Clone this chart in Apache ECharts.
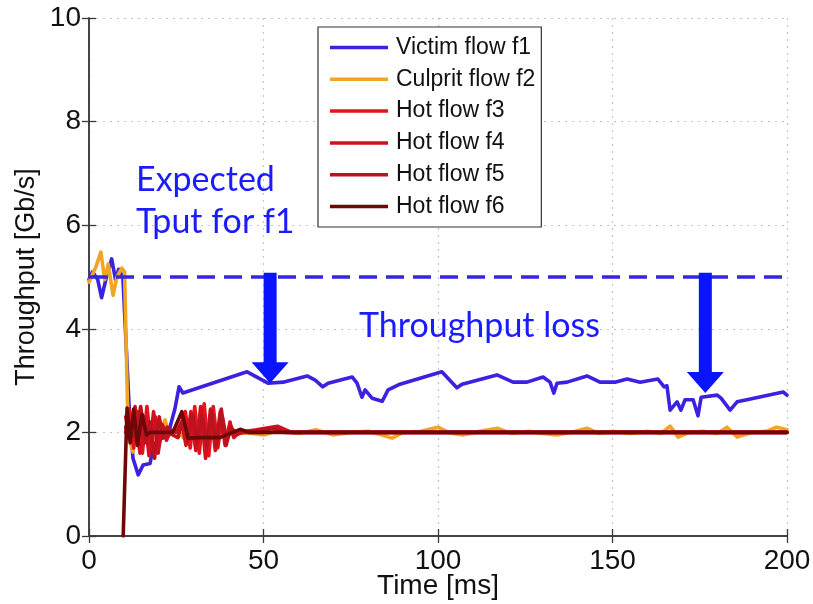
<!DOCTYPE html>
<html>
<head>
<meta charset="utf-8">
<script src="https://cdn.jsdelivr.net/npm/echarts@6/dist/echarts.min.js"></script>
<style>
  html, body { margin: 0; padding: 0; background: #fff; }
  #chart { width: 813px; height: 604px; }
</style>
</head>
<body>
<div id="chart"></div>
<script>
// Axis ticks
const xTicks = [0, 50, 100, 150, 200];
const yTicks = [0, 2, 4, 6, 8, 10];

// Throughput samples, [time ms, Gb/s]
const victimF1 = [
  [0, 4.95], [1, 5.1], [2.5, 4.95], [3.6, 4.6], [5, 5.0], [6.5, 5.35], [7.6, 4.95], [8.5, 5.15],
  [9.7, 5.0], [11.5, 2.5], [12.6, 1.5], [14.1, 1.18], [15.5, 1.37], [17.5, 1.4], [18.1, 1.62],
  [19.5, 1.85], [21.8, 1.91], [23.2, 2.1], [24.6, 2.45], [25.8, 2.88], [26.9, 2.76], [45.3, 3.17],
  [51.3, 2.95], [55.6, 2.97], [62.5, 3.09], [64.8, 3.01], [67, 2.88], [68.5, 2.95], [75.4, 3.07],
  [76.8, 2.95], [78.2, 2.68], [79.1, 2.82], [81.1, 2.66], [84, 2.6], [85.7, 2.82], [89.1, 2.93],
  [101.1, 3.17], [105.4, 2.86], [106.9, 2.93], [116.9, 3.11], [121.5, 2.97], [125.5, 2.97],
  [130.1, 3.07], [132.1, 2.97], [133.2, 2.76], [134.1, 2.95], [137, 2.97], [142.7, 3.09],
  [146.4, 2.97], [150.7, 2.97], [154.2, 3.03], [157.9, 2.97], [163, 3.03], [164.8, 2.88],
  [165.6, 2.9], [166.5, 2.43], [168.5, 2.59], [169.6, 2.43], [170.8, 2.63], [173.1, 2.63],
  [174.5, 2.32], [175.4, 2.68], [180, 2.72], [181.1, 2.66], [183.7, 2.43], [185.7, 2.59],
  [188.5, 2.63], [198.9, 2.78], [200, 2.72]
];
const culpritF2 = [
  [0, 4.9], [1, 5.05], [2, 5.2], [3.4, 5.48], [4.5, 4.95], [5.5, 5.25], [6.9, 4.65], [8, 5.0],
  [9.4, 5.17], [10.2, 5.1], [11, 2.6], [11.6, 1.85], [12.6, 1.62], [13.5, 2.2], [14.5, 1.7],
  [15.5, 2.1], [16.5, 1.85], [18, 2.0], [19.5, 1.85], [21.8, 2.24], [23, 1.95], [25, 2.05],
  [27, 1.9], [28.5, 1.85], [30, 2.0], [35, 2.0], [40, 1.95], [45, 2.0], [50, 1.95], [55, 2.05],
  [60, 1.98], [65, 2.05], [70, 1.95], [75, 2.0], [80, 2.02], [84, 1.95], [86.8, 1.89], [90, 2.0],
  [95, 2.02], [100, 2.1], [103, 2.0], [107, 1.95], [112, 2.02], [117, 2.08], [121, 1.98],
  [126, 2.02], [130, 1.98], [134, 1.95], [138, 2.0], [142.7, 2.08], [146, 1.98], [150, 2.02],
  [155, 1.98], [160, 2.02], [164, 1.98], [166.5, 2.12], [168.8, 1.91], [172, 2.0], [176, 2.02],
  [180, 1.98], [182.8, 2.1], [185.7, 1.91], [190, 2.0], [194, 2.02], [197, 2.1], [200, 2.05]
];
const hotF3 = [
  [10.5, 2.0], [11.5, 2.45], [12.8, 1.7], [14, 2.4], [15.3, 1.6], [16.6, 2.5], [17.8, 1.7],
  [19, 2.3], [20.2, 1.8], [21.5, 2.1], [22.5, 1.95], [24, 2.0],
  [26, 2.05], [27.6, 2.4], [29, 1.7], [30.3, 2.5], [31.6, 1.6], [33, 2.55], [34.3, 1.55],
  [35.6, 2.5], [36.9, 1.7], [38.2, 2.3], [39.5, 1.85], [40.6, 2.1],
  [42, 1.95], [44, 2.0], [50, 2.0], [53, 2.1], [56, 2.0], [100, 2.0], [200, 2.0]
];
const hotF4 = [
  [10.5, 2.3], [11.8, 1.9], [13.2, 2.5], [14.6, 1.6], [16, 2.3], [17.2, 1.55], [18.5, 2.4],
  [19.8, 1.6], [21, 2.15], [22.2, 1.85], [23.5, 2.05], [25, 2.0],
  [26.5, 2.2], [27.8, 1.75], [29.2, 2.4], [30.6, 1.65], [32, 2.5], [33.4, 1.5], [34.8, 2.45],
  [36.2, 1.65], [37.6, 2.4], [39, 1.75], [40.4, 2.2], [41.5, 1.9],
  [43, 2.0], [48, 2.05], [54, 2.12], [58, 2.0], [100, 2.0], [200, 2.0]
];
const hotF5 = [
  [10.5, 2.1], [12, 2.2], [13.4, 1.85], [14.8, 2.5], [16.2, 1.8], [17.5, 2.2], [18.8, 1.5],
  [20.1, 2.3], [21.3, 1.9], [22.5, 2.1], [24, 1.95], [25.5, 1.9], [27, 2.3],
  [28.3, 1.85], [29.7, 2.35], [31, 1.8], [32.4, 2.3], [33.8, 1.75], [35.1, 2.4], [36.5, 1.75],
  [37.9, 2.45], [39.3, 1.75], [40.6, 2.1], [42, 2.0], [46, 2.0], [52, 2.08], [57, 2.0], [100, 2.0],
  [200, 2.0]
];
const hotF6 = [
  [9.8, 0], [10.9, 2.47], [11.8, 1.8], [12.8, 2.45], [13.9, 1.75], [15.2, 2.35], [16.5, 1.95],
  [17.5, 2.0], [20, 2.0], [24, 2.0], [26.6, 2.4], [28.4, 1.89], [32, 1.9], [37.5, 1.9],
  [43.3, 2.06], [46, 2.0], [100, 2.0], [200, 2.0]
];
const expectedF1 = [[0, 5], [200, 5]];

// Loss arrows: time, top value, tip value
const lossArrows = [
  { t: 51.9, from: 5.08, to: 2.95 },
  { t: 176.6, from: 5.08, to: 2.76 }
];

const seriesNames = ['Victim flow f1', 'Culprit flow f2', 'Hot flow f3', 'Hot flow f4', 'Hot flow f5', 'Hot flow f6'];
const seriesData = [victimF1, culpritF2, hotF3, hotF4, hotF5, hotF6];
const seriesColors = ['#3b22e0', '#f0a622', '#e3141c', '#d0101c', '#bb1220', '#6e0808'];

const FONT = 'Liberation Sans, Arial, sans-serif';
const ANNOT_FONT = 'Lato, Open Sans, sans-serif';
const ANNOT_BLUE = '#1b1bff';

const chart = echarts.init(document.getElementById('chart'), null, { renderer: 'canvas' });

const gridLine = { show: true, lineStyle: { color: '#c4c4c4', width: 1.2, type: [2, 5] } };
const frameLine = { show: true, lineStyle: { color: '#3a3a3a', width: 1.5 } };
const inTick = { show: true, inside: true, length: 7, lineStyle: { color: '#3a3a3a', width: 1.3 } };

const series = seriesNames.map((name, i) => ({
  name: name,
  type: 'line',
  data: seriesData[i],
  showSymbol: false,
  symbol: 'none',
  smooth: false,
  lineStyle: { color: seriesColors[i], width: 3.6, join: 'round', cap: 'round' },
  itemStyle: { color: seriesColors[i] },
  z: 3 + i
}));
series.push({
  name: 'expected',
  type: 'line',
  data: expectedF1,
  symbol: 'none',
  lineStyle: { color: '#3526e6', width: 3.4, type: [18, 9] },
  z: 10
});

chart.setOption({
  animation: false,
  backgroundColor: '#fff',
  grid: { left: 89, right: 26, top: 18, bottom: 68, containLabel: false, outerBoundsMode: 'none' },
  legend: {
    data: seriesNames,
    orient: 'vertical',
    left: 318,
    top: 27,
    padding: [9, 6, 9, 12],
    itemWidth: 58,
    itemHeight: 3.5,
    itemGap: 8.8,
    backgroundColor: '#fff',
    borderColor: '#333',
    borderWidth: 1.2,
    borderRadius: 0,
    icon: 'rect',
    textStyle: { fontFamily: FONT, fontSize: 23, color: '#111', lineHeight: 22, padding: [0, 0, 0, 3] },
    itemStyle: { borderWidth: 0 },
    selectedMode: false
  },
  xAxis: [
    {
      type: 'value', min: xTicks[0], max: xTicks[xTicks.length - 1], interval: 50,
      name: 'Time [ms]', nameLocation: 'middle', nameGap: 36, nameMoveOverlap: false,
      nameTextStyle: { fontFamily: FONT, fontSize: 28, color: '#111' },
      axisLine: frameLine, axisTick: inTick, splitLine: gridLine,
      axisLabel: { fontFamily: FONT, fontSize: 28, color: '#111', margin: 11 }
    },
    {
      type: 'value', position: 'top', min: xTicks[0], max: xTicks[xTicks.length - 1], interval: 50,
      axisLine: frameLine, axisTick: inTick, splitLine: { show: false }, axisLabel: { show: false }
    }
  ],
  yAxis: [
    {
      type: 'value', min: yTicks[0], max: yTicks[yTicks.length - 1], interval: 2,
      name: 'Throughput [Gb/s]', nameLocation: 'middle', nameGap: 49, nameMoveOverlap: false,
      nameTextStyle: { fontFamily: FONT, fontSize: 27, color: '#111' },
      axisLine: frameLine, axisTick: inTick, splitLine: gridLine,
      axisLabel: { fontFamily: FONT, fontSize: 28, color: '#111', margin: 8 }
    },
    {
      type: 'value', position: 'right', min: yTicks[0], max: yTicks[yTicks.length - 1], interval: 2,
      axisLine: frameLine, axisTick: inTick, splitLine: { show: false }, axisLabel: { show: false }
    }
  ],
  series: series
});

// Loss arrows and annotation text
function arrowShape(a) {
  const top = chart.convertToPixel({ gridIndex: 0 }, [a.t, a.from]);
  const tip = chart.convertToPixel({ gridIndex: 0 }, [a.t, a.to]);
  const cx = top[0], shaftHalf = 6.5, headHalf = 18.5, headLen = 21;
  const headTop = tip[1] - headLen;
  return {
    type: 'polygon',
    shape: {
      points: [
        [cx - shaftHalf, top[1]], [cx + shaftHalf, top[1]], [cx + shaftHalf, headTop],
        [cx + headHalf, headTop], [cx, tip[1]], [cx - headHalf, headTop], [cx - shaftHalf, headTop]
      ]
    },
    style: { fill: '#0a14ff' },
    z: 20
  };
}

const graphics = lossArrows.map(arrowShape);
const annot = (text, x, y) => ({
  type: 'text', left: x, top: y, z: 21,
  style: { text: text, fontFamily: ANNOT_FONT, fontSize: 34, fill: ANNOT_BLUE }
});
graphics.push(annot('Expected', 136, 163));
graphics.push(annot('Tput for f1', 136, 205));
graphics.push(annot('Throughput loss', 359, 309));
chart.setOption({ graphic: graphics });
</script>
</body>
</html>
